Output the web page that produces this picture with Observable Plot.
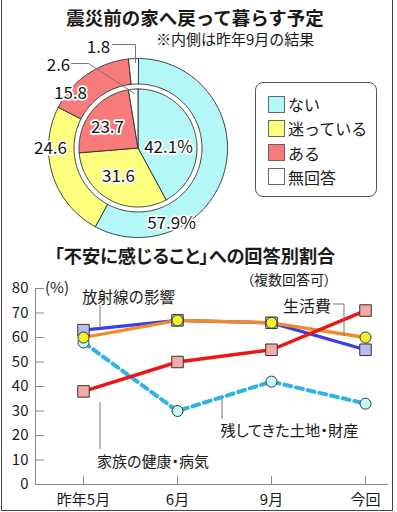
<!DOCTYPE html>
<html><head><meta charset="utf-8">
<script src="https://cdn.jsdelivr.net/npm/d3@7"></script>
<script src="https://cdn.jsdelivr.net/npm/@observablehq/plot@0.6"></script>
<style>
body{margin:0;background:#fff;}
#wrap{position:relative;width:397px;height:512px;overflow:hidden;background:#fff;font-family:"Noto Sans CJK JP","Noto Sans",sans-serif;color:#1a1a1a;}
#frame{position:absolute;left:1px;top:-4px;width:392px;height:515px;border:1.5px solid #444;box-sizing:border-box;pointer-events:none;}
.t{position:absolute;line-height:0.9;white-space:nowrap;}
.palt{font-feature-settings:"palt";}
.plot{position:absolute;}
#legend{position:absolute;left:255px;top:82px;width:122px;height:115px;border:1.5px solid #555;border-radius:8px;box-sizing:border-box;}
.row{position:absolute;left:12px;height:18px;display:flex;align-items:center;font-size:16px;}
.sw{width:17px;height:17px;border:1.5px solid #666;box-sizing:border-box;margin-right:3px;}
</style></head>
<body><div id="wrap"></div>
<script>
// ---------- data ----------
const answerLabels = ["ない", "迷っている", "ある", "無回答"];
const answerColors = ["#b3f7f7", "#fdfd7e", "#f87b7b", "#ffffff"];
const currentShares = [57.9, 24.6, 15.8, 1.8];   // outer ring (今回)
const lastSepShares = [42.1, 31.6, 23.7, 2.6];   // inner pie (昨年9月)

const periods = ["昨年5月", "6月", "9月", "今回"];
const yTicks = [0, 10, 20, 30, 40, 50, 60, 70, 80];
const radiationImpact = [63, 67, 66, 55];   // 放射線の影響
const livingCosts = [60, 67, 66, 60];       // 生活費
const familyHealth = [38, 50, 55, 71];      // 家族の健康・病気
const leftProperty = [58, 30, 42, 33];      // 残してきた土地・財産

// ---------- layout ----------
const wrap = document.getElementById("wrap");
const FONT = '"Noto Sans CJK JP","Noto Sans",sans-serif';
function txt(s, x, y, size, opts = {}) {
  const d = document.createElement("div");
  d.className = "t" + (opts.palt ? " palt" : "");
  d.textContent = s;
  d.style.fontSize = size + "px";
  d.style.left = x + "px";
  d.style.top = y + "px";
  const ax = opts.anchor === "start" ? "0" : opts.anchor === "end" ? "-100%" : "-50%";
  d.style.transform = `translate(${ax},-50%)`;
  if (opts.bold) d.style.fontWeight = "bold";
  wrap.appendChild(d);
  return d;
}

// titles
txt("震災前の家へ戻って暮らす予定", 195, 17, 18.5, {bold: true});
txt("※内側は昨年9月の結果", 156, 39, 15, {anchor: "start"});
txt("「不安に感じること」への回答別割合", 195, 255, 18.2, {bold: true, palt: true});
txt("（複数回答可）", 289, 279, 14, {palt: true});
txt("(%)", 45, 287, 15, {anchor: "start"});

// ---------- donut ----------
const cx = 137.5, cy = 147.5, dTop = 36, dH = 212;
function ringPoints(values, rIn, rOut, ring) {
  const pts = [];
  let cum = 0;
  values.forEach((v, i) => {
    const a0 = cum / 100 * 2 * Math.PI, a1 = (cum + v) / 100 * 2 * Math.PI;
    cum += v;
    const n = Math.max(2, Math.ceil((a1 - a0) / (Math.PI / 180)));
    const seq = [];
    for (let k = 0; k <= n; k++) { const a = a0 + (a1 - a0) * k / n; seq.push([rOut * Math.sin(a), rOut * Math.cos(a)]); }
    if (rIn > 0) for (let k = n; k >= 0; k--) { const a = a0 + (a1 - a0) * k / n; seq.push([rIn * Math.sin(a), rIn * Math.cos(a)]); }
    else seq.push([0, 0]);
    seq.push(seq[0]);
    seq.forEach(([x, y]) => pts.push({key: ring + i, answer: answerLabels[i], x, y}));
  });
  return pts;
}
const outerPts = ringPoints(currentShares, 64, 89.5, "outer");
const innerPts = ringPoints(lastSepShares, 0, 59, "inner");

// label placement (relative to centre, y up)
const donutLabels = [
  {text: lastSepShares[0] + "%", x: 30.5, y: 0.5},
  {text: String(lastSepShares[1]), x: -19.5, y: -28.5},
  {text: String(lastSepShares[2]), x: -30.5, y: 20.5},
  {text: String(lastSepShares[3]), x: -79.5, y: 82.5},
  {text: currentShares[0] + "%", x: 33.5, y: -75.5},
  {text: String(currentShares[1]), x: -87.5, y: -0.5},
  {text: String(currentShares[2]), x: -67.5, y: 54.5},
  {text: String(currentShares[3]), x: -39.5, y: 100.5}
];
const leaders = [
  {id: "a", x: -25.5, y: 103.5}, {id: "a", x: -2.5, y: 103.5}, {id: "a", x: -2.5, y: 85.5},
  {id: "b", x: -66.5, y: 84.5}, {id: "b", x: -49.5, y: 84.5}, {id: "b", x: -3.5, y: 54.5}
];

const donut = Plot.plot({
  width: 397, height: dH, margin: 0,
  x: {domain: [-cx, 397 - cx], range: [0, 397], axis: null},
  y: {domain: [-(dTop + dH - cy), cy - dTop], range: [dH, 0], axis: null},
  color: {domain: answerLabels, range: answerColors},
  style: {fontFamily: FONT, background: "transparent", overflow: "visible"},
  marks: [
    Plot.line(outerPts, {x: "x", y: "y", z: "key", fill: "answer", stroke: "#3a3a3a", strokeWidth: 1}),
    Plot.line(innerPts, {x: "x", y: "y", z: "key", fill: "answer", stroke: "#3a3a3a", strokeWidth: 1}),
    Plot.line(leaders, {x: "x", y: "y", z: "id", stroke: "#777", strokeWidth: 1}),
    Plot.text(donutLabels, {x: "x", y: "y", text: "text", fontSize: 17, fill: "white", stroke: "white", strokeWidth: 3.5}),
    Plot.text(donutLabels, {x: "x", y: "y", text: "text", fontSize: 17, fill: "#151515"})
  ]
});
donut.classList.add("plot");
donut.style.left = "0px";
donut.style.top = dTop + "px";
wrap.appendChild(donut);

// legend
const legend = document.createElement("div");
legend.id = "legend";
answerLabels.forEach((lab, i) => {
  const r = document.createElement("div");
  r.className = "row";
  r.style.top = (12 + i * 24.3) + "px";
  const sw = document.createElement("div");
  sw.className = "sw";
  sw.style.background = answerColors[i];
  const s = document.createElement("span");
  s.textContent = lab;
  r.appendChild(sw); r.appendChild(s);
  legend.appendChild(r);
});
wrap.appendChild(legend);

// ---------- line chart ----------
const rows = (vals) => vals.map((v, i) => ({period: periods[i], value: v}));
const lineTop = 270;
const lineChart = Plot.plot({
  width: 397, height: 240,
  marginTop: 18, marginBottom: 26, marginLeft: 35, marginRight: 9,
  x: {type: "point", domain: periods, range: [82, 366], padding: 0, label: null},
  y: {domain: [0, 80], label: null},
  style: {fontFamily: FONT, fontSize: "15px", background: "transparent", color: "#1a1a1a", overflow: "visible"},
  marks: [
    Plot.frame({anchor: "left", stroke: "#888"}),
    Plot.ruleY([0], {stroke: "#888"}),
    Plot.axisY({ticks: yTicks, tickSize: -9, tickPadding: 16, stroke: "#888", fill: "#1a1a1a", label: null, fontSize: 15}),
    Plot.axisX({tickSize: -8, tickPadding: 18, stroke: "#888", fill: "#1a1a1a", label: null, fontSize: 15}),
    Plot.line(rows(leftProperty), {x: "period", y: "value", stroke: "#2fb2e6", strokeWidth: 4, strokeDasharray: "7,5"}),
    Plot.line(rows(radiationImpact), {x: "period", y: "value", stroke: "#3c3cf2", strokeWidth: 3.3}),
    Plot.line(rows(livingCosts), {x: "period", y: "value", stroke: "#f38a22", strokeWidth: 3.3}),
    Plot.line(rows(familyHealth), {x: "period", y: "value", stroke: "#ee1515", strokeWidth: 3.5}),
    Plot.dot(rows(leftProperty), {x: "period", y: "value", r: 5.5, fill: "#c8fafa", stroke: "#333", strokeWidth: 1}),
    Plot.dot(rows(radiationImpact), {x: "period", y: "value", symbol: "square", r: 6.5, fill: "#babaf3", stroke: "#333", strokeWidth: 1}),
    Plot.dot(rows(familyHealth), {x: "period", y: "value", symbol: "square", r: 6.5, fill: "#f5aaaa", stroke: "#333", strokeWidth: 1}),
    Plot.dot(rows(livingCosts), {x: "period", y: "value", r: 5.5, fill: "#f6f22a", stroke: "#333", strokeWidth: 1})
  ]
});
lineChart.classList.add("plot");
lineChart.style.left = "0px";
lineChart.style.top = lineTop + "px";
wrap.appendChild(lineChart);

// series labels + leader lines
txt("放射線の影響", 128.5, 297, 15.5);
txt("生活費", 307, 305, 16);
txt("残してきた土地・財産", 289.5, 429.5, 15.3, {palt: true});
txt("家族の健康・病気", 153, 461, 15, {palt: true});
const ns = "http://www.w3.org/2000/svg";
const ov = document.createElementNS(ns, "svg");
ov.setAttribute("width", 397); ov.setAttribute("height", 512);
ov.style.position = "absolute"; ov.style.left = "0"; ov.style.top = "0"; ov.style.pointerEvents = "none";
[["M100,305V328"], ["M333,304H344V336"], ["M222,398V419"], ["M100,402V449"]].forEach(([d]) => {
  const p = document.createElementNS(ns, "path");
  p.setAttribute("d", d); p.setAttribute("fill", "none"); p.setAttribute("stroke", "#777"); p.setAttribute("stroke-width", "1");
  ov.appendChild(p);
});
wrap.appendChild(ov);

const frame = document.createElement("div");
frame.id = "frame";
wrap.appendChild(frame);
</script>
</body></html>
